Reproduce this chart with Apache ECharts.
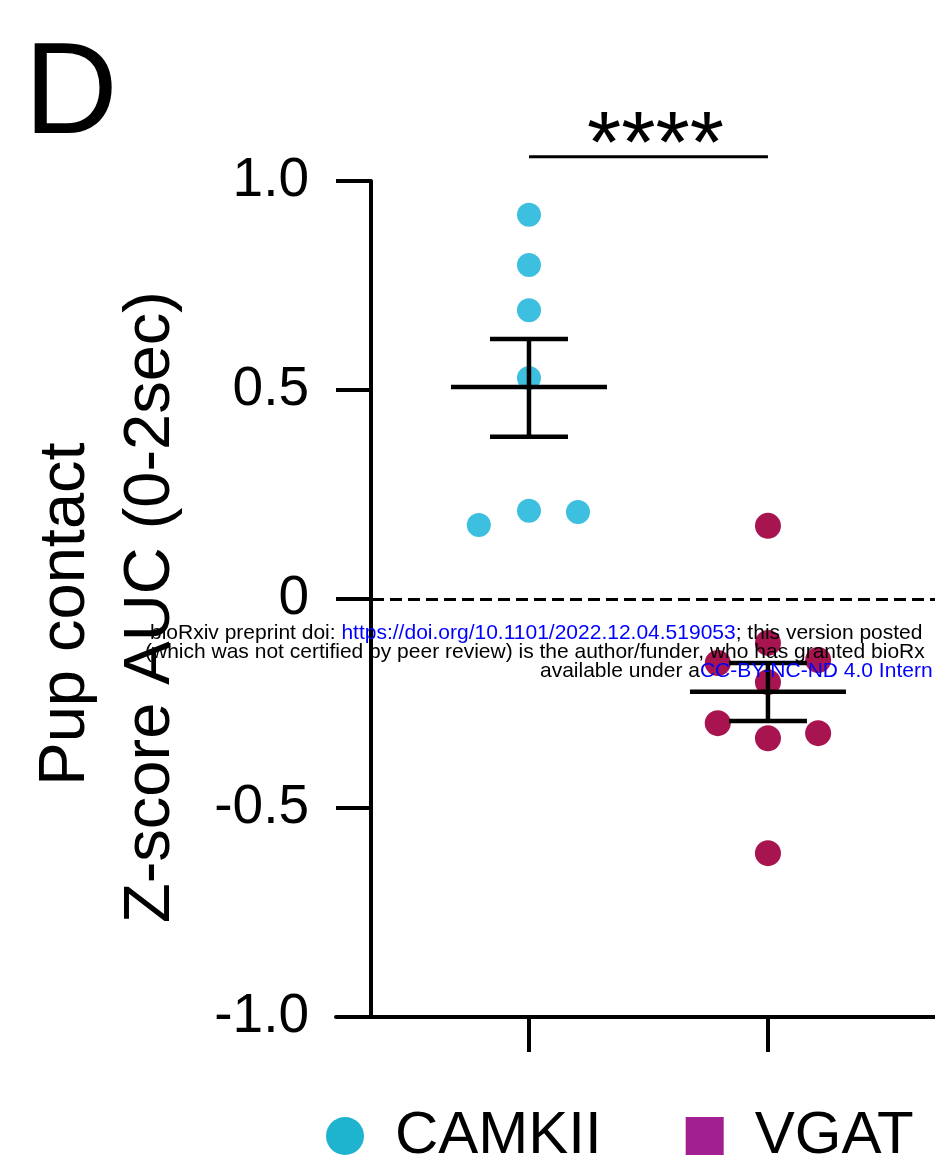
<!DOCTYPE html>
<html><head><meta charset="utf-8">
<script src="https://cdn.jsdelivr.net/npm/echarts@6/dist/echarts.min.js"></script>
<style>html,body{margin:0;padding:0;background:#fff}#c{width:935px;height:1171px}</style>
</head><body><div id="c"></div>
<script>
// ---- data ----
const categories = ['CAMKII', 'VGAT'];
const camkiiValues = [0.919, 0.799, 0.691, 0.529, 0.211, 0.208, 0.177];
const camkiiJitter = [0, 0, 0, 0, 0, 0.205, -0.21];
const vgatValues = [0.175, -0.105, -0.153, -0.146, -0.199, -0.297, -0.333, -0.321, -0.608];
const vgatJitter = [0, 0, -0.21, 0.21, 0, -0.21, 0, 0.21, 0];
const means = [0.507, -0.222];
const semLow = [0.388, -0.292];
const semHigh = [0.622, -0.153];
const yTickLabels = ['-1.0', '-0.5', '0', '0.5', '1.0'];
const yTitleLines = ['Pup contact', 'Z-score AUC (0-2sec)'];
const significance = '****';
const significanceLevel = 1.058;
const panelLabel = 'D';
const watermark1 = ['bioRxiv preprint doi: ', 'https://doi.org/10.1101/2022.12.04.519053', '; this version posted'];
const watermark2 = '(which was not certified by peer review) is the author/funder, who has granted bioRx';
const watermark3 = ['available under a', 'CC-BY-NC-ND 4.0 Intern'];

const FONT = '"Liberation Sans", Arial, Helvetica, sans-serif';
const chart = echarts.init(document.getElementById('c'), null, {renderer: 'canvas'});

const option = {
  backgroundColor: '#ffffff',
  animation: false,
  textStyle: {fontFamily: FONT},
  grid: {left: 336, right: 0, top: 181, bottom: 154, containLabel: false},
  xAxis: {
    type: 'value', min: 0.1925, max: 2.699,
    axisLine: {show: true, onZero: false, lineStyle: {color: '#000', width: 4}},
    axisTick: {show: true, customValues: [1, 2], length: 35, lineStyle: {color: '#000', width: 4}},
    axisLabel: {show: false},
    splitLine: {show: false}
  },
  yAxis: {
    type: 'value', min: -1, max: 1, interval: 0.5, offset: -35,
    axisLine: {show: true, onZero: false, lineStyle: {color: '#000', width: 4}},
    axisTick: {show: true, length: 35, lineStyle: {color: '#000', width: 4}},
    axisLabel: {
      show: true, margin: 62, fontSize: 55, color: '#000', fontFamily: FONT,
      formatter: v => yTickLabels[Math.round((v + 1) / 0.5)]
    },
    splitLine: {show: false}
  },
  legend: {
    left: 321, top: 1101, orient: 'horizontal',
    itemWidth: 38, itemHeight: 38, itemGap: 84,
    textStyle: {fontSize: 60, color: '#000', fontFamily: FONT, padding: [0, 0, 0, 26]},
    data: [
      {name: 'CAMKII', icon: 'circle', itemStyle: {color: '#1eb3cf', opacity: 1}},
      {name: 'VGAT', icon: 'rect', itemStyle: {color: '#a21f92', opacity: 1}}
    ]
  },
  series: [
    {
      name: 'CAMKII', type: 'scatter', symbol: 'circle', symbolSize: 24,
      itemStyle: {color: '#3dbfe0', opacity: 1}, z: 2,
      data: camkiiValues.map((v, i) => [1 + camkiiJitter[i], v]),
      markLine: {
        silent: true, symbol: 'none', label: {show: false},
        lineStyle: {color: '#000', width: 3, type: [12, 6], opacity: 1},
        data: [{yAxis: 0}]
      }
    },
    {
      name: 'VGAT', type: 'scatter', symbol: 'circle', symbolSize: 26,
      itemStyle: {color: '#a8144f', opacity: 1}, z: 2,
      data: vgatValues.map((v, i) => [2 + vgatJitter[i], v])
    },
    {
      name: 'meanSEM', type: 'custom', z: 5,
      encode: {x: 0, y: 1},
      data: categories.map((c, i) => [i + 1, means[i], semLow[i], semHigh[i]]),
      renderItem: function (params, api) {
        const x = api.value(0);
        const pm = api.coord([x, api.value(1)]);
        const pl = api.coord([x, api.value(2)]);
        const ph = api.coord([x, api.value(3)]);
        const W = 78, C = 39;
        const st = {stroke: '#000', lineWidth: 4.5};
        return {type: 'group', children: [
          {type: 'line', shape: {x1: pm[0] - W, y1: pm[1], x2: pm[0] + W, y2: pm[1]}, style: st},
          {type: 'line', shape: {x1: pl[0], y1: pl[1], x2: ph[0], y2: ph[1]}, style: st},
          {type: 'line', shape: {x1: pl[0] - C, y1: pl[1], x2: pl[0] + C, y2: pl[1]}, style: st},
          {type: 'line', shape: {x1: ph[0] - C, y1: ph[1], x2: ph[0] + C, y2: ph[1]}, style: st}
        ]};
      }
    }
  ]
};
chart.setOption(option);

const p1 = chart.convertToPixel({gridIndex: 0}, [1, significanceLevel]);
const p2 = chart.convertToPixel({gridIndex: 0}, [2, significanceLevel]);
const yMid = chart.convertToPixel({gridIndex: 0}, [1, 0])[1];

const wmRich = {
  k: {fontSize: 21, fontFamily: FONT, fill: '#000000', color: '#000000'},
  b: {fontSize: 21, fontFamily: FONT, fill: '#0000ff', color: '#0000ff'}
};
chart.setOption({
  graphic: [
    {type: 'text', x: 24, y: 97, z: 10, style: {text: panelLabel, fontSize: 130, fontFamily: FONT, fill: '#000', textAlign: 'left', textVerticalAlign: 'middle'}},
    {type: 'line', z: 10, shape: {x1: p1[0], y1: p1[1], x2: p2[0], y2: p2[1]}, style: {stroke: '#000', lineWidth: 3}},
    {type: 'text', x: (p1[0] + p2[0]) / 2 + 7, y: p1[1] + 35, z: 10, style: {text: significance, fontSize: 88, fontFamily: FONT, fill: '#000', textAlign: 'center', textVerticalAlign: 'bottom'}},
    {type: 'text', x: 66, y: yMid + 15, rotation: Math.PI / 2, z: 10, style: {text: yTitleLines[0], fontSize: 65, fontFamily: FONT, fill: '#000', textAlign: 'center', textVerticalAlign: 'middle'}},
    {type: 'text', x: 151, y: yMid + 8, rotation: Math.PI / 2, z: 10, style: {text: yTitleLines[1], fontSize: 65, fontFamily: FONT, fill: '#000', textAlign: 'center', textVerticalAlign: 'middle'}},
    {type: 'text', x: 150, y: 633, z: 20, style: {
      text: '{k|' + watermark1[0] + '}{b|' + watermark1[1] + '}{k|' + watermark1[2] + '}',
      fill: '#000', textVerticalAlign: 'middle', textAlign: 'left', rich: wmRich
    }},
    {type: 'text', x: 145, y: 652, z: 20, style: {text: watermark2, fontSize: 21, fontFamily: FONT, fill: '#000', textAlign: 'left', textVerticalAlign: 'middle'}},
    {type: 'text', x: 540, y: 671, z: 20, style: {
      text: '{k|' + watermark3[0] + '}{b|' + watermark3[1] + '}',
      fill: '#000', textVerticalAlign: 'middle', textAlign: 'left', rich: wmRich
    }}
  ]
});
</script>
</body></html>
